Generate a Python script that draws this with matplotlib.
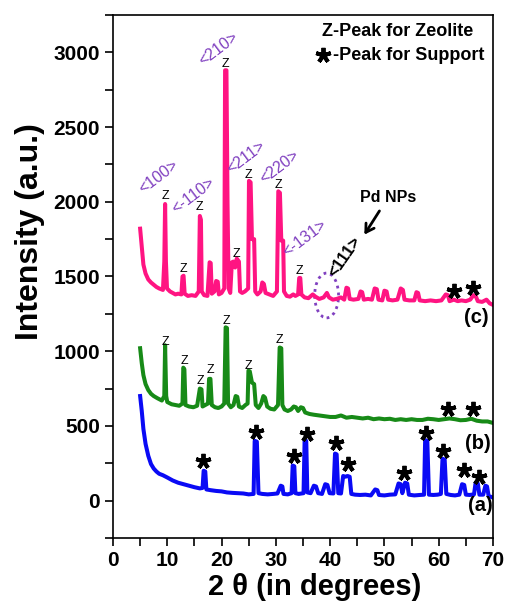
import numpy as np
import matplotlib
matplotlib.use('Agg')
import matplotlib.pyplot as plt
from matplotlib.patches import Ellipse

plt.rcParams['font.family'] = ['Liberation Sans', 'DejaVu Sans']

# curve (c) - Pd/zeolite
x_c = [5.0, 5.3, 5.6, 6.0, 6.5, 7.0, 7.5, 8.0, 8.5, 9.2, 9.45, 9.6, 9.75, 9.95, 10.5, 11.0, 11.5, 12.0,
       12.6, 12.8, 13.0, 13.2, 13.8, 14.5, 15.2, 15.8, 16.0, 16.2, 16.35, 16.8, 17.4, 17.8, 18.0, 18.2,
       18.7, 19.0, 19.3, 19.5, 20.0, 20.5, 20.65, 20.9, 21.1, 21.3, 21.6, 21.9, 22.2, 22.5, 22.8, 23.2,
       23.4, 23.8, 24.3, 24.9, 25.05, 25.35, 25.6, 26.0, 26.2, 26.6, 27.2, 27.5, 27.8, 28.1, 28.8, 29.5,
       30.2, 30.45, 30.75, 31.0, 31.35, 31.5, 32.0, 32.6, 33.2, 33.6, 34.1, 34.3, 34.5, 34.7, 35.3, 36.0,
       36.8, 37.3, 38.0, 38.8, 39.4, 39.8, 40.5, 41.2, 42.0, 42.6, 43.0, 43.3, 43.6, 44.3, 45.2, 45.6,
       45.9, 46.2, 47.0, 47.7, 48.2, 48.6, 48.9, 49.6, 50.0, 50.4, 50.7, 51.5, 52.4, 53.0, 53.4, 53.7,
       54.6, 55.5, 55.9, 56.2, 56.5, 57.5, 58.5, 59.5, 60.5, 61.3, 61.7, 62.0, 62.8, 63.5, 64.2, 65.0,
       65.8, 66.4, 66.8, 67.2, 68.0, 68.8, 69.4, 70.0]
y_c = [1820, 1700, 1580, 1520, 1480, 1460, 1445, 1430, 1420, 1410, 1600, 1985, 1600, 1420, 1400, 1390, 1380, 1385,
       1380, 1500, 1505, 1385, 1370, 1375, 1370, 1400, 1905, 1880, 1400, 1375, 1370, 1595, 1590, 1385,
       1400, 1470, 1465, 1380, 1390, 1420, 2880, 2880, 1990, 1420, 1390, 1595, 1600, 1560, 1620, 1600,
       1400, 1390, 1400, 1420, 2140, 2130, 1750, 1750, 1400, 1380, 1400, 1460, 1450, 1390, 1380, 1370,
       1400, 2070, 2060, 1740, 1740, 1400, 1370, 1365, 1380, 1370, 1380, 1490, 1490, 1380, 1360, 1355,
       1380, 1365, 1350, 1360, 1390, 1360, 1345, 1350, 1360, 1345, 1425, 1420, 1350, 1345, 1350, 1400,
       1395, 1345, 1350, 1345, 1420, 1415, 1345, 1340, 1405, 1400, 1345, 1340, 1345, 1420, 1410, 1345,
       1340, 1340, 1395, 1390, 1340, 1335, 1340, 1335, 1340, 1380, 1375, 1335, 1345, 1335, 1340, 1335,
       1345, 1375, 1370, 1335, 1330, 1345, 1320, 1310]

# curve (b) - zeolite
x_b = [5.0, 5.3, 5.6, 6.0, 6.5, 7.0, 7.5, 8.2, 9.0, 9.45, 9.6, 9.8, 10.0, 10.8, 11.5, 12.2, 12.8, 12.95,
       13.15, 13.35, 14.0, 14.8, 15.5, 16.0, 16.3, 16.5, 17.0, 17.5, 17.7, 17.95, 18.2, 18.8, 19.4, 20.0,
       20.5, 20.75, 21.0, 21.2, 21.7, 22.2, 22.6, 22.9, 23.2, 23.8, 24.4, 24.8, 24.95, 25.2, 25.6, 26.0,
       26.3, 26.8, 27.3, 27.7, 28.0, 28.4, 29.0, 29.7, 30.4, 30.7, 31.0, 31.2, 31.6, 32.2, 32.8, 33.3,
       33.7, 34.1, 34.6, 35.0, 35.4, 36.2, 37.0, 38.0, 39.0, 40.0, 41.0, 42.0, 43.0, 44.0, 45.0, 46.0,
       47.0, 48.0, 49.0, 50.0, 51.0, 52.0, 53.0, 54.0, 55.0, 56.0, 57.0, 58.0, 59.0, 60.0, 61.0, 62.0,
       63.0, 64.0, 65.0, 66.0, 67.0, 68.0, 69.0, 70.0]
y_b = [1020, 920, 840, 780, 740, 715, 700, 685, 670, 700, 1040, 700, 660, 645, 640, 635, 650, 890,
       880, 640, 630, 625, 635, 750, 745, 630, 640, 650, 815, 815, 640, 625, 620, 630,
       650, 1160, 1155, 650, 625, 640, 700, 695, 630, 620, 640, 650, 870, 865, 790, 780,
       640, 620, 650, 700, 690, 630, 615, 610, 640, 1025, 1020, 640, 610, 600, 610, 630,
       625, 600, 625, 620, 590, 580, 575, 570, 565, 560, 560, 570, 555, 560, 555, 550,
       555, 545, 550, 545, 548, 540, 545, 540, 545, 540, 540, 548, 545, 540, 545, 550,
       545, 538, 540, 548, 535, 530, 530, 520]

# curve (a) - support
x_a = [5.0, 5.3, 5.6, 6.0, 6.5, 7.0, 7.5, 8.0, 8.5, 9.2, 10.0, 11.0, 12.0, 13.0, 14.0, 15.0, 16.0, 16.5,
       16.7, 17.0, 17.2, 18.0, 19.0, 20.0, 21.0, 22.0, 23.0, 24.0, 25.0, 25.9, 26.1, 26.5, 26.8, 27.5,
       28.5, 29.5, 30.3, 30.9, 31.2, 31.4, 32.2, 32.9, 33.1, 33.4, 33.6, 34.2, 35.1, 35.3, 35.6, 35.8,
       36.4, 37.0, 37.4, 37.8, 38.5, 39.1, 39.5, 39.9, 40.6, 40.9, 41.2, 41.5, 42.0, 42.4, 42.8, 43.2,
       43.6, 43.9, 44.6, 45.5, 46.5, 47.5, 48.3, 48.7, 49.0, 50.0, 51.0, 52.0, 52.6, 53.0, 53.3, 53.8,
       54.2, 54.5, 55.5, 56.5, 57.3, 57.5, 57.9, 58.2, 59.0, 59.8, 60.4, 60.7, 61.1, 61.4, 62.2, 63.0,
       63.8, 64.3, 64.7, 65.0, 65.7, 66.5, 66.8, 67.2, 67.5, 68.2, 68.6, 68.9, 69.2, 69.7, 70.0]
y_a = [700, 600, 480, 380, 300, 245, 215, 195, 180, 170, 155, 135, 120, 110, 100, 90, 82, 85,
       200, 195, 75, 70, 65, 62, 55, 52, 50, 48, 42, 45, 400, 395, 50, 45,
       42, 45, 48, 100, 95, 45, 42, 50, 235, 230, 50, 45, 50, 405, 400, 55,
       50, 100, 95, 50, 45, 110, 105, 50, 48, 315, 310, 50, 48, 165, 160, 165,
       160, 45, 40, 38, 40, 35, 75, 70, 38, 35, 40, 42, 115, 110, 50, 120,
       115, 40, 35, 38, 40, 405, 400, 40, 38, 40, 45, 280, 275, 45, 38, 35,
       40, 110, 105, 40, 38, 42, 120, 115, 40, 40, 100, 95, 30, 25, 20]

# Z marks (zeolite peaks)
z_c_x = [9.6, 12.95, 16.0, 20.75, 22.8, 25.0, 30.4, 34.4]
z_c_y = [2036, 1552, 1965, 2920, 1652, 2177, 2110, 1540]
z_b_x = [9.6, 13.1, 16.1, 17.9, 20.9, 25.0, 30.75]
z_b_y = [1060, 933, 799, 871, 1201, 904, 1072]

# star marks (support peaks)
star_x = [16.5, 26.3, 33.4, 35.7, 41.1, 43.3, 53.6, 57.6, 60.8, 64.7, 67.5, 61.7, 66.3, 62.9, 66.4]
star_y = [268, 457, 301, 447, 386, 246, 183, 451, 335, 208, 161, 616, 616, 1400, 1420]

# Miller indices
hkl_text = ['<100>', '<-110>', '<210>', '<211>', '<220>', '<-131>']
hkl_x = [8.35, 14.7, 19.4, 24.6, 30.75, 35.4]
hkl_y = [2165, 2043, 3025, 2300, 2233, 1753]

fig = plt.figure(figsize=(5.06, 6.02), dpi=100)
ax = fig.add_axes([0.2233, 0.1063, 0.751, 0.8688])

ax.plot(x_a, y_a, color='#0a0af5', lw=2.9, solid_joinstyle='round')
ax.plot(x_b, y_b, color='#178a17', lw=2.9, solid_joinstyle='round')
ax.plot(x_c, y_c, color='#ff1482', lw=2.9, solid_joinstyle='round')

for xx, yy in zip(z_c_x, z_c_y):
    ax.text(xx, yy, 'Z', fontsize=9, ha='center', va='center')
for xx, yy in zip(z_b_x, z_b_y):
    ax.text(xx, yy, 'Z', fontsize=9, ha='center', va='center')

ax.plot(star_x, star_y, ls='none', marker=(5, 2, 0), ms=11, mew=2.8, color='black')

purple = '#8040c0'
for t, xx, yy in zip(hkl_text, hkl_x, hkl_y):
    ax.text(xx, yy, t, fontsize=11.5, color=purple, rotation=37, ha='center', va='center')

ax.text(42.7, 1630, '<111>', fontsize=12, fontweight='bold', rotation=55, ha='center', va='center')
ax.annotate('Pd NPs', xy=(46.3, 1780), xytext=(50.7, 2031), fontsize=11.5, fontweight='bold',
            ha='center', va='center',
            arrowprops=dict(arrowstyle='->, head_length=0.5, head_width=0.3', lw=2,
                            color='black', shrinkA=3, shrinkB=0))
ax.add_patch(Ellipse((39.35, 1373), 4.4, 300, fill=False, ls=(0, (1, 1.5)), lw=2, color=purple))

ax.text(67.0, 1228, '(c)', fontsize=14.5, fontweight='bold', ha='center', va='center')
ax.text(67.2, 380, '(b)', fontsize=14.5, fontweight='bold', ha='center', va='center')
ax.text(67.6, -33, '(a)', fontsize=14.5, fontweight='bold', ha='center', va='center')

ax.text(0.55, 0.968, 'Z-Peak for Zeolite', transform=ax.transAxes, fontsize=13,
        fontweight='bold', ha='left', va='center')
ax.text(0.579, 0.9235, '-Peak for Support', transform=ax.transAxes, fontsize=13,
        fontweight='bold', ha='left', va='center')
ax.plot([0.552], [0.9235], transform=ax.transAxes, marker=(5, 2, 0), ms=11, mew=2.8,
        color='black', clip_on=False)

ax.set_xlim(0, 70)
ax.set_ylim(-250, 3250)
ax.set_xticks(np.arange(0, 71, 10))
ax.set_xticks(np.arange(5, 70, 10), minor=True)
ax.set_yticks(np.arange(0, 3001, 500))
ax.set_yticks(np.arange(-250, 3251, 250), minor=True)
ax.tick_params(which='both', direction='out', length=5.5, width=1.2, top=False, right=False)
ax.tick_params(which='major', labelsize=15, pad=4)
for lab in ax.get_xticklabels() + ax.get_yticklabels():
    lab.set_fontweight('bold')
for s in ax.spines.values():
    s.set_linewidth(1.2)

ax.set_xlabel('2 θ (in degrees)', fontsize=21, fontweight='bold')
ax.set_ylabel('Intensity (a.u.)', fontsize=23, fontweight='bold')
ax.xaxis.set_label_coords(0.53, -0.066)
ax.yaxis.set_label_coords(-0.18, 0.585)

fig.savefig('out.png', dpi=100)
